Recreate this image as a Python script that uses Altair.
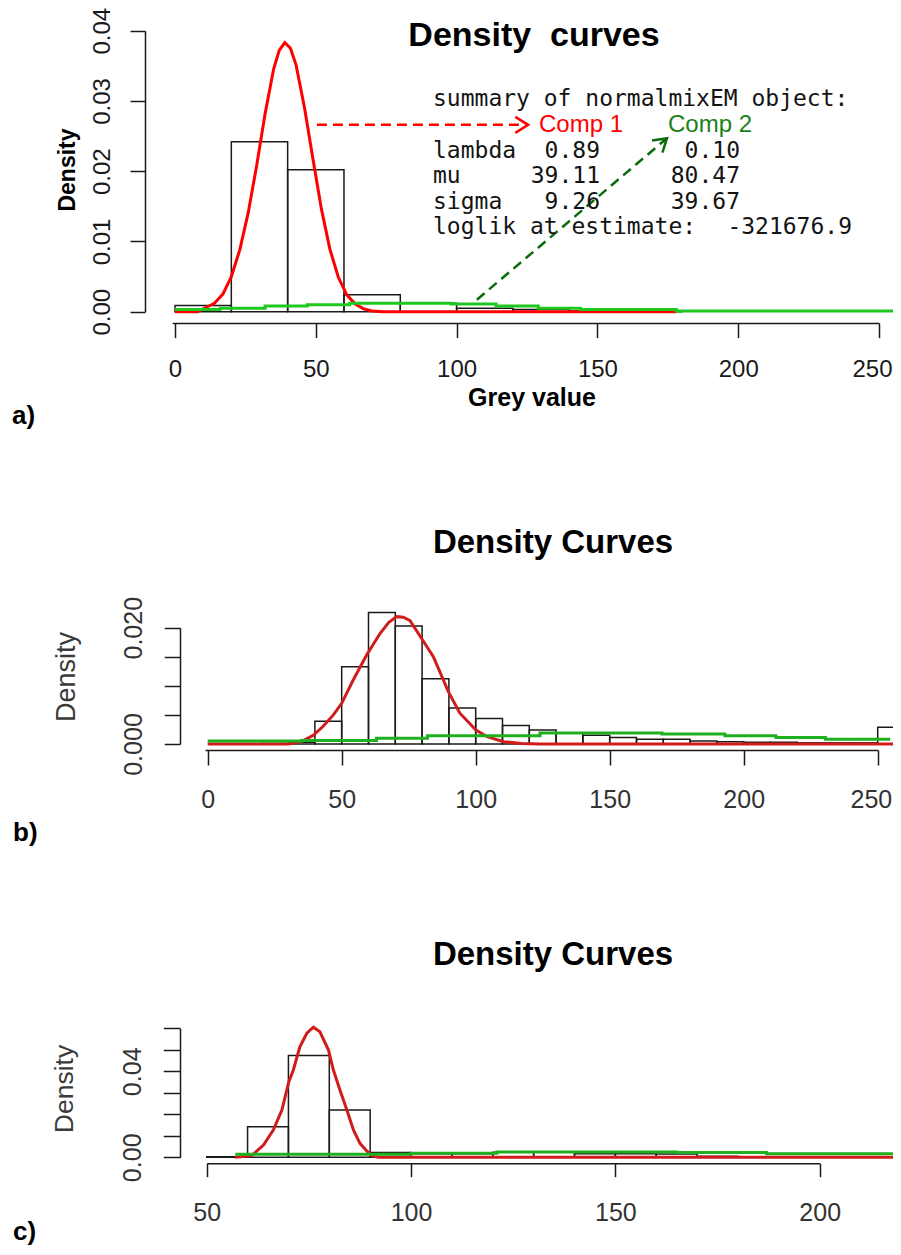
import json
import altair as alt
import pandas as pd

W, H = 885, 1239

# ---------------- panel a (grey value histogram, 2-component fit) ----------------
a_bin_start = [0, 20, 40, 60, 80, 100, 120, 140, 160]
a_bin_end = [20, 40, 60, 80, 100, 120, 140, 160, 180]
a_density = [0.0009, 0.0242, 0.0202, 0.0024, 0.0012, 0.0005, 0.0003, 0.0001, 0.0001]
a_red_x = [0, 8, 11, 14, 17, 20, 23, 26, 29, 32, 35, 37, 39, 41, 43, 46, 49, 52, 55, 58, 61, 64, 67, 70, 74, 178]
a_red_y = [0, 0, 0.0006, 0.0012, 0.0025, 0.0050, 0.0088, 0.0141, 0.0208, 0.0282, 0.0345, 0.0372, 0.0383,
           0.0375, 0.0351, 0.0290, 0.0217, 0.0146, 0.0089, 0.0049, 0.0024, 0.0011, 0.0004, 0.0001, 0, 0]
a_green_x = [0, 16, 32, 47, 62, 98, 114, 129, 144, 178, 256]
a_green_y = [0.0003, 0.0005, 0.0008, 0.0010, 0.0012, 0.0011, 0.0008, 0.0005, 0.0003, 0.0001, 0.0001]
a_x_ticks = [0, 50, 100, 150, 200, 250]
a_y_ticks = [0.00, 0.01, 0.02, 0.03, 0.04]

# arrows (data units of panel a)
arrow1_x, arrow1_y, arrow1_x2, arrow1_y2 = [50.4], [0.0266], [125.4], [0.0266]
arrow2_x, arrow2_y, arrow2_x2, arrow2_y2 = [107.2], [0.0017], [174.7], [0.0247]

summary_title = "summary of normalmixEM object:"
comp_names = ["Comp 1", "Comp 2"]
row_names = ["lambda", "mu", "sigma"]
comp1_vals = ["0.89", "39.11", "9.26"]
comp2_vals = ["0.10", "80.47", "39.67"]
loglik_label = "loglik at estimate:"
loglik_value = "-321676.9"

# ---------------- panel b ----------------
b_bin_start = [20, 30, 40, 50, 60, 70, 80, 90, 100, 110, 120, 130, 140, 150, 160, 170, 180, 190, 200, 210, 220, 230, 240, 250]
b_bin_end = [30, 40, 50, 60, 70, 80, 90, 100, 110, 120, 130, 140, 150, 160, 170, 180, 190, 200, 210, 220, 230, 240, 250, 260]
b_density = [0.0001, 0.0003, 0.0039, 0.0133, 0.0226, 0.0203, 0.0112, 0.0062, 0.0044, 0.0032, 0.0024, 0.0019,
             0.0015, 0.0011, 0.0008, 0.0008, 0.0005, 0.0004, 0.0003, 0.0003, 0.0002, 0.0002, 0.0002, 0.0029]
b_red_x = [0, 30, 35, 39.4, 43, 46.9, 50, 54.3, 59.3, 64.3, 67.5, 70.5, 73, 75.5, 80.3, 84.2, 89.8, 94.1,
           100.1, 104.1, 110.3, 117, 124, 256]
b_red_y = [0, 0, 0.0004, 0.0015, 0.0030, 0.0050, 0.0070, 0.0110, 0.0153, 0.0190, 0.0209, 0.0219, 0.0218,
           0.0212, 0.0178, 0.0150, 0.0090, 0.0053, 0.0024, 0.0013, 0.0004, 0.0001, 0, 0]
b_green_x = [0, 35, 63, 82, 124, 169.5, 193, 212, 230.5, 254.7]
b_green_y = [0.0005, 0.0006, 0.0010, 0.0014, 0.0019, 0.0017, 0.0014, 0.0011, 0.0008, 0.0008]
b_x_ticks = [0, 50, 100, 150, 200, 250]
b_y_ticks = [0.000, 0.005, 0.010, 0.015, 0.020]
b_y_labels = ["0.000", "0.020"]

# ---------------- panel c ----------------
c_bin_start = [50, 60, 70, 80, 90, 100, 110, 120, 130, 140, 150, 160, 170, 180, 190, 200, 210]
c_bin_end = [60, 70, 80, 90, 100, 110, 120, 130, 140, 150, 160, 170, 180, 190, 200, 210, 220]
c_density = [0.0003, 0.0142, 0.0474, 0.0220, 0.0022, 0.0016, 0.0016, 0.0023, 0.0023, 0.0017, 0.0017,
             0.0015, 0.0005, 0.0003, 0.0002, 0.0001, 0.0001]
c_red_x = [57, 61, 63.9, 66.3, 68.4, 70.1, 71.2, 72.8, 74.5, 76.1, 77.7, 79.8, 81.0, 82.6, 84.3, 85.9,
           87.5, 89.1, 90.4, 92, 219.6]
c_red_y = [0, 0.0008, 0.0057, 0.0127, 0.0220, 0.0352, 0.0406, 0.0514, 0.0577, 0.0605, 0.0584, 0.0499,
           0.0406, 0.0313, 0.0220, 0.0127, 0.0065, 0.0031, 0.0008, 0, 0]
c_green_x = [57, 100, 121, 165, 187, 219.6]
c_green_y = [0.0014, 0.0019, 0.0025, 0.0022, 0.0016, 0.0016]
c_x_ticks = [50, 100, 150, 200]
c_y_ticks = [0.00, 0.01, 0.02, 0.03, 0.04, 0.05, 0.06]
c_y_labels = ["0.00", "0.04"]

FONT = "Liberation Sans"
DUMMY = pd.DataFrame({"_": [0]})


def make_panel(bs, be, dens, rx, ry, gx, gy, xdom, xrange, ydom, yrange,
               xaxis_y, yaxis_x, xticks, yticks, yfmt, ykeep,
               xtick, ytick, xpad, ypad, lab_size, lab_color, red, green,
               flush_offset=None, extra=None):
    xs = alt.Scale(domain=xdom, range=xrange, nice=False, zero=False)
    ys = alt.Scale(domain=ydom, range=yrange, nice=False, zero=False)
    common = dict(grid=False, title=None, domainColor="#1a1a1a", tickColor="#1a1a1a",
                  domainWidth=1.5, tickWidth=1.5, labelFont=FONT, labelFontSize=lab_size,
                  labelColor=lab_color, labelOverlap=False)
    xargs = dict(orient="bottom", offset=xaxis_y - H, values=xticks, tickSize=xtick,
                 labelPadding=xpad, format="d", **common)
    if flush_offset is not None:
        # only the last label sits at the range end; keep it inside the page
        xargs["labelFlush"] = 1
        xargs["labelFlushOffset"] = flush_offset
    else:
        xargs["labelFlush"] = False
    xa = alt.Axis(**xargs)
    yargs = dict(orient="left", offset=-yaxis_x, values=yticks, tickSize=ytick, labelPadding=ypad,
                 format=yfmt, labelAngle=270, labelAlign="center", labelBaseline="bottom",
                 labelFlush=False, **common)
    if ykeep is not None:
        yargs["labelExpr"] = "indexof(%s, datum.label) >= 0 ? datum.label : ''" % json.dumps(ykeep)
    ya = alt.Axis(**yargs)

    df_bins = pd.DataFrame({"x": bs, "x2": be, "y": dens})
    df_red = pd.DataFrame({"x": rx, "y": ry})
    df_green = pd.DataFrame({"x": gx, "y": gy})

    X = lambda f="x:Q": alt.X(f, scale=xs, axis=xa)
    Y = lambda f="y:Q": alt.Y(f, scale=ys, axis=ya)

    bars = alt.Chart(df_bins).mark_rect(fill="transparent", stroke="#1a1a1a", strokeWidth=1.5).encode(
        x=X(), x2="x2:Q", y=Y(), y2=alt.datum(0))
    red_line = alt.Chart(df_red).mark_line(color=red, strokeWidth=3).encode(x=X(), y=Y())
    green_line = alt.Chart(df_green).mark_line(color=green, strokeWidth=3, interpolate="step-after").encode(
        x=X(), y=Y())
    layers = [bars, red_line, green_line]
    if extra is not None:
        layers += extra(X, Y)
    return alt.layer(*layers)


def arrows_a(X, Y):
    out = []
    for (x, y, x2, y2, col, ang) in [
        (arrow1_x, arrow1_y, arrow1_x2, arrow1_y2, "#ff0000", 0),
        (arrow2_x, arrow2_y, arrow2_x2, arrow2_y2, "#0b6b0b", 319.5),
    ]:
        df = pd.DataFrame({"x": x, "y": y, "x2": x2, "y2": y2})
        out.append(alt.Chart(df).mark_rule(color=col, strokeWidth=2.5, strokeDash=[10, 6]).encode(
            x=X(), y=Y(), x2="x2:Q", y2="y2:Q"))
        out.append(alt.Chart(df).mark_point(shape="M -1.6 -1 L 0 0 L -1.6 1", filled=False, color=col,
                                            strokeWidth=2.5, size=256, angle=ang, opacity=1).encode(
            x=X("x2:Q"), y=Y("y2:Q")))
    return out


panel_a = make_panel(a_bin_start, a_bin_end, a_density, a_red_x, a_red_y, a_green_x, a_green_y,
                     [-1, 250], [164.2, 871], [0, 0.04], [303.7, 22.7],
                     315, 137, a_x_ticks, a_y_ticks, ".2f", None,
                     14.6, 15, 20, 16, 24, "#1a1a1a", "#ff0000", "#1ec81e",
                     flush_offset=13, extra=arrows_a)

panel_b = make_panel(b_bin_start, b_bin_end, b_density, b_red_x, b_red_y, b_green_x, b_green_y,
                     [-1, 250], [197.0, 869.7], [0, 0.02], [736, 619.7],
                     742, 172, b_x_ticks, b_y_ticks, ".3f", b_y_labels,
                     15, 15.7, 22, 18, 25, "#333333", "#d01c1c", "#1fb01f",
                     flush_offset=14)

panel_c = make_panel(c_bin_start, c_bin_end, c_density, c_red_x, c_red_y, c_green_x, c_green_y,
                     [50, 200], [198.7, 811.7], [0, 0.06], [1149.3, 1020.3],
                     1155.3, 172, c_x_ticks, c_y_ticks, ".2f", c_y_labels,
                     13.4, 16.7, 24, 17.5, 25, "#333333", "#d01c1c", "#1fb01f")


def txt(t, x, y, size, weight="normal", color="#111111", align="center", angle=0, font=FONT):
    kw = dict(text=t, fontSize=size, fontWeight=weight, color=color, align=align, baseline="middle",
              font=font)
    if angle:
        kw["angle"] = angle
    return alt.Chart(DUMMY).mark_text(**kw).encode(x=alt.value(x), y=alt.value(y))


MONO = "DejaVu Sans Mono"
TXT = "#141414"
texts = [
    txt("Density\u00a0 curves", 526, 28, 34, "bold", "#000000"),
    txt("Grey value", 524, 390, 25, "bold", "#000000"),
    txt("Density", 60, 162, 23, "bold", "#000000", angle=270),
    txt("a)", 4, 408, 26, "bold", "#000000", align="left"),
    txt("Density Curves", 545, 535, 33, "bold", "#000000"),
    txt("Density", 59, 669, 27, "normal", "#3a3a3a", angle=270),
    txt("b)", 5, 825, 26, "bold", "#000000", align="left"),
    txt("Density Curves", 545, 947, 33, "bold", "#000000"),
    txt("Density", 57, 1081, 26.5, "normal", "#3a3a3a", angle=270),
    txt("c)", 5, 1224, 26, "bold", "#000000", align="left"),
    # summary block
    txt(summary_title, 425, 91, 23, color=TXT, align="left", font=MONO),
    txt(comp_names[0], 531, 117, 24, color="#ff0000", align="left"),
    txt(comp_names[1], 660, 117, 24, color="#1a801a", align="left"),
    txt(loglik_label, 425, 219, 23, color=TXT, align="left", font=MONO),
    txt(loglik_value, 844, 219, 23, color=TXT, align="right", font=MONO),
]
row_y = [142.5, 168, 193.5]
for name, v1, v2, yy in zip(row_names, comp1_vals, comp2_vals, row_y):
    texts.append(txt(name, 425, yy, 23, color=TXT, align="left", font=MONO))
    texts.append(txt(v1, 592, yy, 23, color=TXT, align="right", font=MONO))
    texts.append(txt(v2, 732, yy, 23, color=TXT, align="right", font=MONO))

chart = alt.layer(panel_a, panel_b, panel_c, *texts).resolve_scale(
    x="independent", y="independent"
).properties(
    width=W, height=H, autosize=alt.AutoSizeParams(type="none"), padding=0
).configure_view(strokeWidth=0)

chart.save("out.html", embed_options={"renderer": "svg", "actions": False})
